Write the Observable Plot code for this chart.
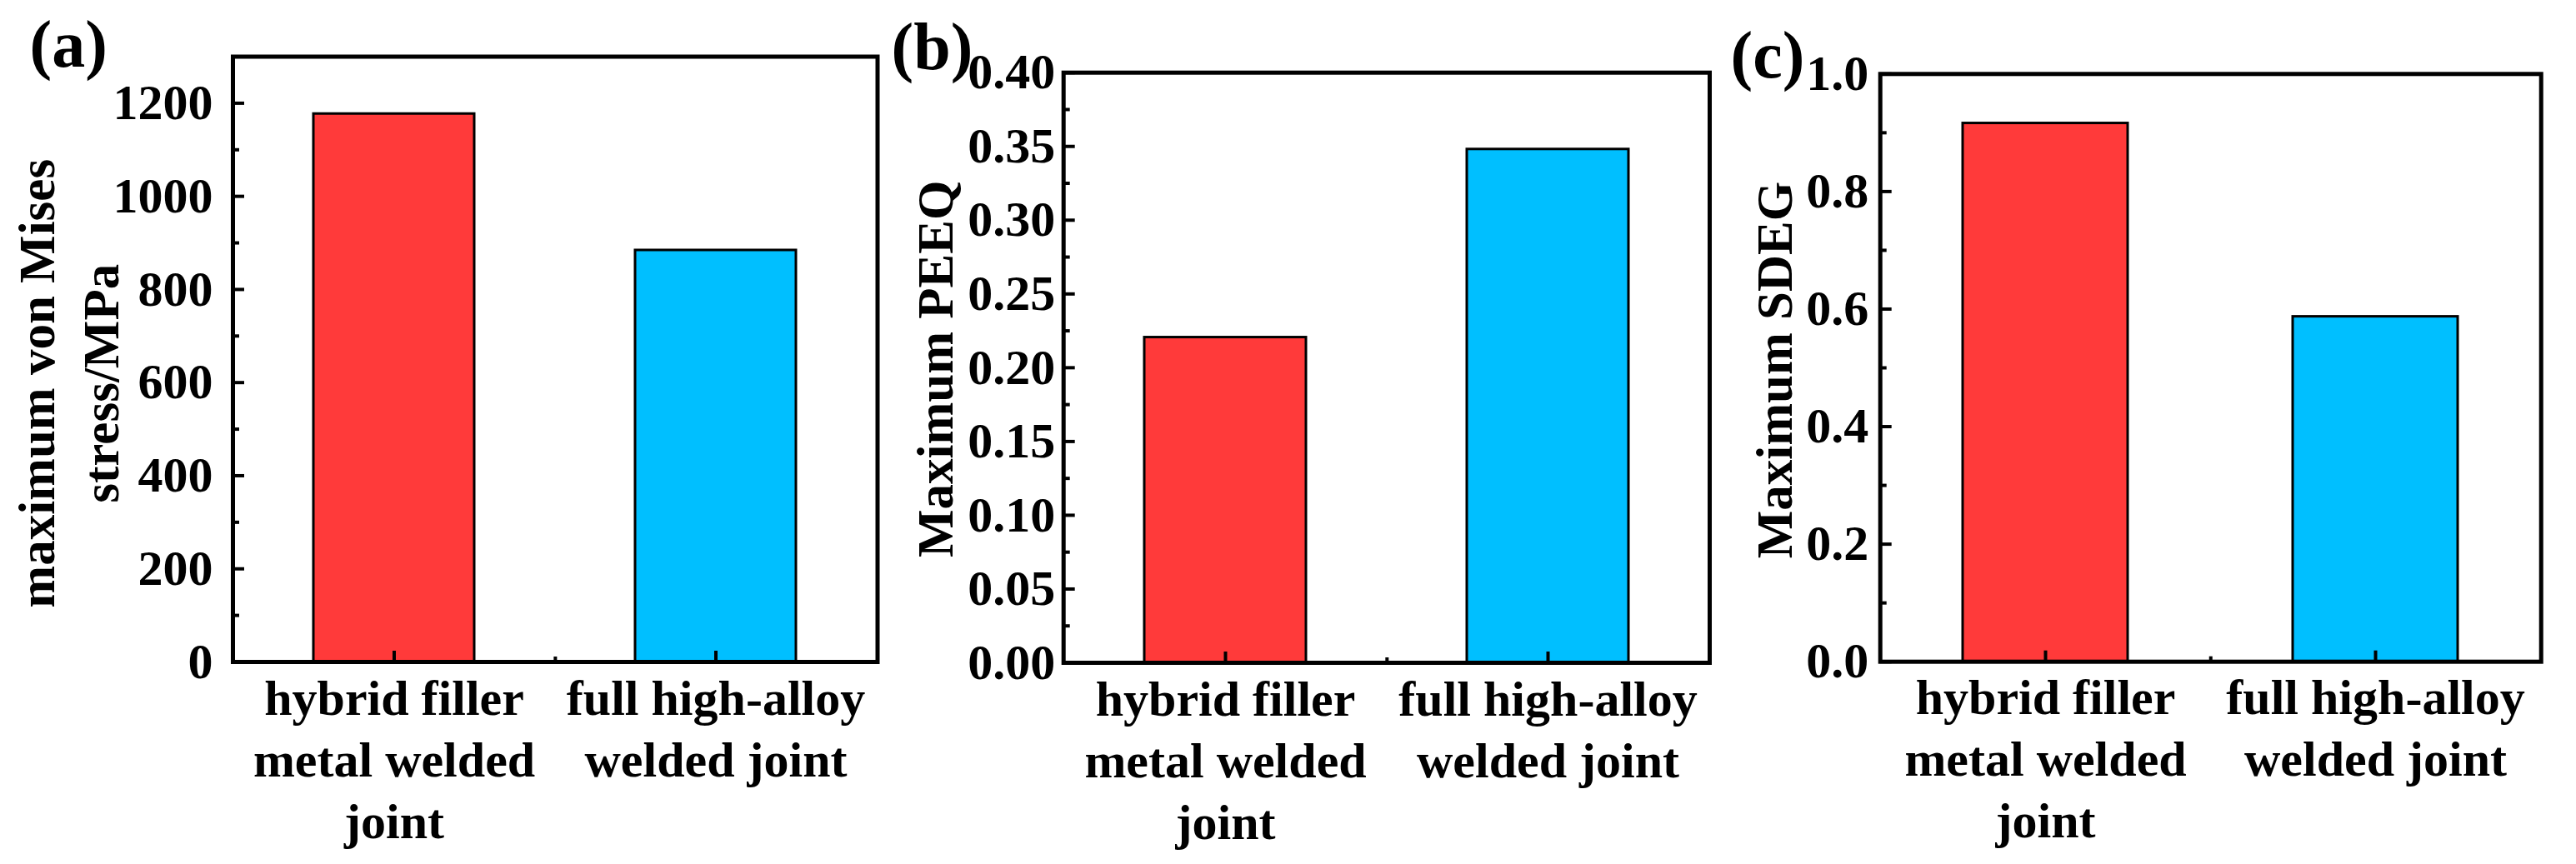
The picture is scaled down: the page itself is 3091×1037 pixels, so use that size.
<!DOCTYPE html>
<html>
<head>
<meta charset="utf-8">
<script src="https://cdn.jsdelivr.net/npm/d3@7"></script>
<script src="https://cdn.jsdelivr.net/npm/@observablehq/plot@0.6"></script>
<style>
html, body { margin: 0; padding: 0; background: #ffffff; }
#chart { position: relative; width: 3091px; height: 1037px; overflow: hidden; background: #ffffff; }
#chart svg { position: absolute; top: 0; }
</style>
</head>
<body>
<div id="chart"></div>
<script>
// ---- data ----
const categories = ["hybrid filler metal welded joint", "full high-alloy welded joint"];
const tickLabels = ["hybrid filler\nmetal welded\njoint", "full high-alloy\nwelded joint"];
const barColors = ["#FF3A3A", "#00BFFF"];

const stressMPa = [1177, 884];
const peeq = [0.2205, 0.348];
const sdeg = [0.916, 0.587];

const stressTicks = [0, 200, 400, 600, 800, 1000, 1200];
const stressMinor = [100, 300, 500, 700, 900, 1100];
const peeqTicks = [0, 0.05, 0.10, 0.15, 0.20, 0.25, 0.30, 0.35, 0.40];
const peeqMinor = [0.025, 0.075, 0.125, 0.175, 0.225, 0.275, 0.325, 0.375];
const sdegTicks = [0, 0.2, 0.4, 0.6, 0.8, 1.0];
const sdegMinor = [0.1, 0.3, 0.5, 0.7, 0.9];

const panelLabels = ["(a)", "(b)", "(c)"];
const yTitles = ["maximum von Mises\nstress/MPa", "Maximum PEEQ", "Maximum SDEG"];

// ---- layout / style config ----
const FONT = "'Liberation Serif', 'Times New Roman', Times, serif";
const panels = [
  {left: 0, width: 1060, mL: 279, mR: 7.5, mT: 67.5, mB: 243,
   values: stressMPa, domain: [0, 1300], major: stressTicks, minor: stressMinor, fmt: d3.format("d"),
   gap: 24, title: yTitles[0], tDx: -200.5, tDy: 29, tSize: 61,
   label: panelLabels[0], lDx: -244, lDy: -14},
  {left: 1060, width: 1000, mL: 215.7, mR: 9, mT: 86.7, mB: 242,
   values: peeq, domain: [0, 0.40], major: peeqTicks, minor: peeqMinor, fmt: d3.format(".2f"),
   gap: 10, title: yTitles[1], tDx: -157.2, tDy: 1.5, tSize: 61,
   label: panelLabels[1], lDx: -206.7, lDy: -30.3},
  {left: 2060, width: 1031, mL: 195.7, mR: 42.3, mT: 88.3, mB: 243.3,
   values: sdeg, domain: [0, 1.0], major: sdegTicks, minor: sdegMinor, fmt: d3.format(".1f"),
   gap: 14, title: yTitles[2], tDx: -130.2, tDy: 2.6, tSize: 61,
   label: panelLabels[2], lDx: -179.7, lDy: -21.9}
];

const container = document.getElementById("chart");

panels.forEach((p) => {
  const rows = categories.map((c, i) => ({category: c, value: p.values[i], color: barColors[i]}));
  const step = (p.width - p.mL - p.mR) / categories.length;
  const svg = Plot.plot({
    width: p.width,
    height: 1037,
    marginLeft: p.mL,
    marginRight: p.mR,
    marginTop: p.mT,
    marginBottom: p.mB,
    style: {fontFamily: FONT, fontWeight: "bold", background: "transparent", overflow: "visible", color: "black"},
    x: {type: "band", domain: categories, paddingInner: 0.5, paddingOuter: 0.25, axis: null},
    y: {domain: p.domain, axis: null},
    color: {type: "identity"},
    marks: [
      Plot.barY(rows, {x: "category", y: "value", fill: "color", stroke: "black", strokeWidth: 3}),
      Plot.frame({stroke: "black", strokeWidth: 5}),
      // y axis: labels, major inward ticks, minor inward ticks
      Plot.axisY(p.major, {anchor: "left", tickSize: 0, tickPadding: p.gap, tickFormat: p.fmt,
        fontSize: 60, fontWeight: "bold", fontFamily: FONT, label: null}),
      Plot.axisY(p.major, {anchor: "left", tickSize: -14, fill: "none", strokeWidth: 4, label: null}),
      Plot.axisY(p.minor, {anchor: "left", tickSize: -8, fill: "none", strokeWidth: 4, label: null}),
      // x axis: category labels, inward ticks, mid minor tick
      Plot.axisX(categories, {anchor: "bottom", tickSize: 0, tickPadding: 10.5,
        tickFormat: (d) => tickLabels[categories.indexOf(d)], lineHeight: 74 / 60,
        fontSize: 60, fontWeight: "bold", fontFamily: FONT, label: null}),
      Plot.axisX(categories, {anchor: "bottom", tickSize: -13, fill: "none", strokeWidth: 4, label: null}),
      Plot.axisX([categories[0]], {anchor: "bottom", tickSize: -6, fill: "none", strokeWidth: 4, dx: step / 2, label: null}),
      // y title
      Plot.text([p.title], {frameAnchor: "left", text: (d) => d, rotate: -90, textAnchor: "middle",
        lineAnchor: "middle", lineHeight: 1.25, dx: p.tDx, dy: p.tDy,
        fontSize: p.tSize, fontWeight: "bold", fontFamily: FONT, fill: "black"}),
      // panel label
      Plot.text([p.label], {frameAnchor: "top-left", text: (d) => d, textAnchor: "start",
        lineAnchor: "middle", dx: p.lDx, dy: p.lDy,
        fontSize: 80, fontWeight: "bold", fontFamily: FONT, fill: "black"})
    ]
  });
  svg.style.left = p.left + "px";
  container.appendChild(svg);
});
</script>
</body>
</html>
